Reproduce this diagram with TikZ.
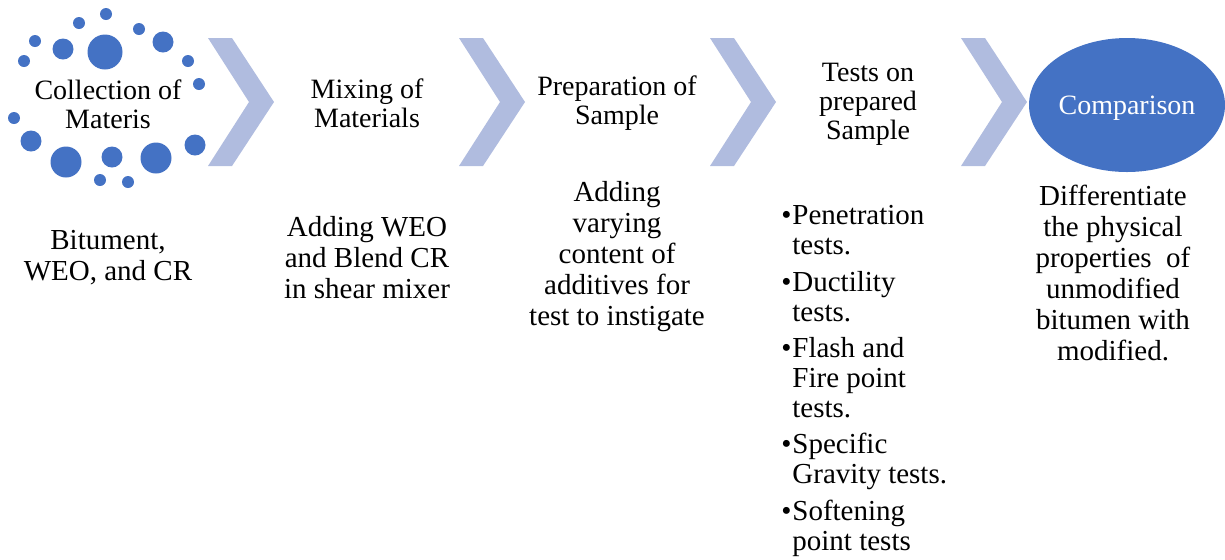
\documentclass[tikz,border=0pt]{standalone}
\usepackage{fontspec}
\setmainfont{Liberation Serif}
\usetikzlibrary{shapes.geometric}
\definecolor{dotblue}{HTML}{4472C4}
\definecolor{chevblue}{HTML}{B0BCDF}
\begin{document}
\begin{tikzpicture}[x=0.5pt,y=-0.5pt,line join=round]
	\tikzset{every node/.style={inner sep=0pt, align=center},
		head/.style={font=\fontsize{14}{14.5}\selectfont},
		body/.style={font=\fontsize{14.5}{15.5}\selectfont},
		bullets/.style={font=\fontsize{14.5}{15}\selectfont, align=left}}
	\useasboundingbox (0,0) rectangle (1225,559);
	% chevrons between the steps
	\foreach \i in {0,...,3}
	\fill[chevblue] ({208+251*\i},38) -- ++(24,0) -- ++(42,64) -- ++(-42,64) -- ++(-24,0) -- ++(41,-64) -- cycle;
	% ring of dots round the first step
	\foreach \x/\y/\r in {106/14/6,79/23/6,139/29/6,35/41/6,63/49/10.5,105/52/17.5,163/42/10.5,24/61/6,188/61/6,199/84/6,14/118/6,31/141/10.5,195/145/10.5,66/162/15.5,112/157/10.5,156/158/15.5,100/180/6,128/182/6}
	\fill[dotblue] (\x,\y) circle[radius={\r*0.5pt}];
	% step titles
	\node[head] (collect) at (108,104) {Collection of\\Materis};
	\node[head] (mixing) at (367,103) {Mixing of\\Materials};
	\node[head] (prepare) at (617,103) {Preparation of\\Sample};
	\node[head] (tests) at (868,104) {Tests on\\prepared\\Sample};
	\node[head, ellipse, fill=dotblue, text=white, text depth=0pt, minimum width=98pt, minimum height=67pt] (compare) at (1127,105) {Comparison};
	% step details
	\node[body] (collectd) at (108,258) {Bitument,\\WEO, and CR};
	\node[body] (mixingd) at (367,258) {Adding WEO\\and Blend CR\\in shear mixer};
	\node[body] (prepared) at (617,257) {Adding\\varying\\content of\\additives for\\test to instigate};
	\node[bullets, anchor=west] (testsd) at (781,381) {\makebox[5.5pt][l]{•}Penetration\\\hspace*{5.5pt}tests.\\[3.2pt]
		\makebox[5.5pt][l]{•}Ductility\\\hspace*{5.5pt}tests.\\[3.2pt]
		\makebox[5.5pt][l]{•}Flash and\\\hspace*{5.5pt}Fire point\\\hspace*{5.5pt}tests.\\[3.2pt]
		\makebox[5.5pt][l]{•}Specific\\\hspace*{5.5pt}Gravity tests.\\[3.2pt]
		\makebox[5.5pt][l]{•}Softening\\\hspace*{5.5pt}point tests};
	\node[body] (compared) at (1113,273) {Differentiate\\the physical\\properties\ \ of\\unmodified\\bitumen with\\modified.};
\end{tikzpicture}
\end{document}
